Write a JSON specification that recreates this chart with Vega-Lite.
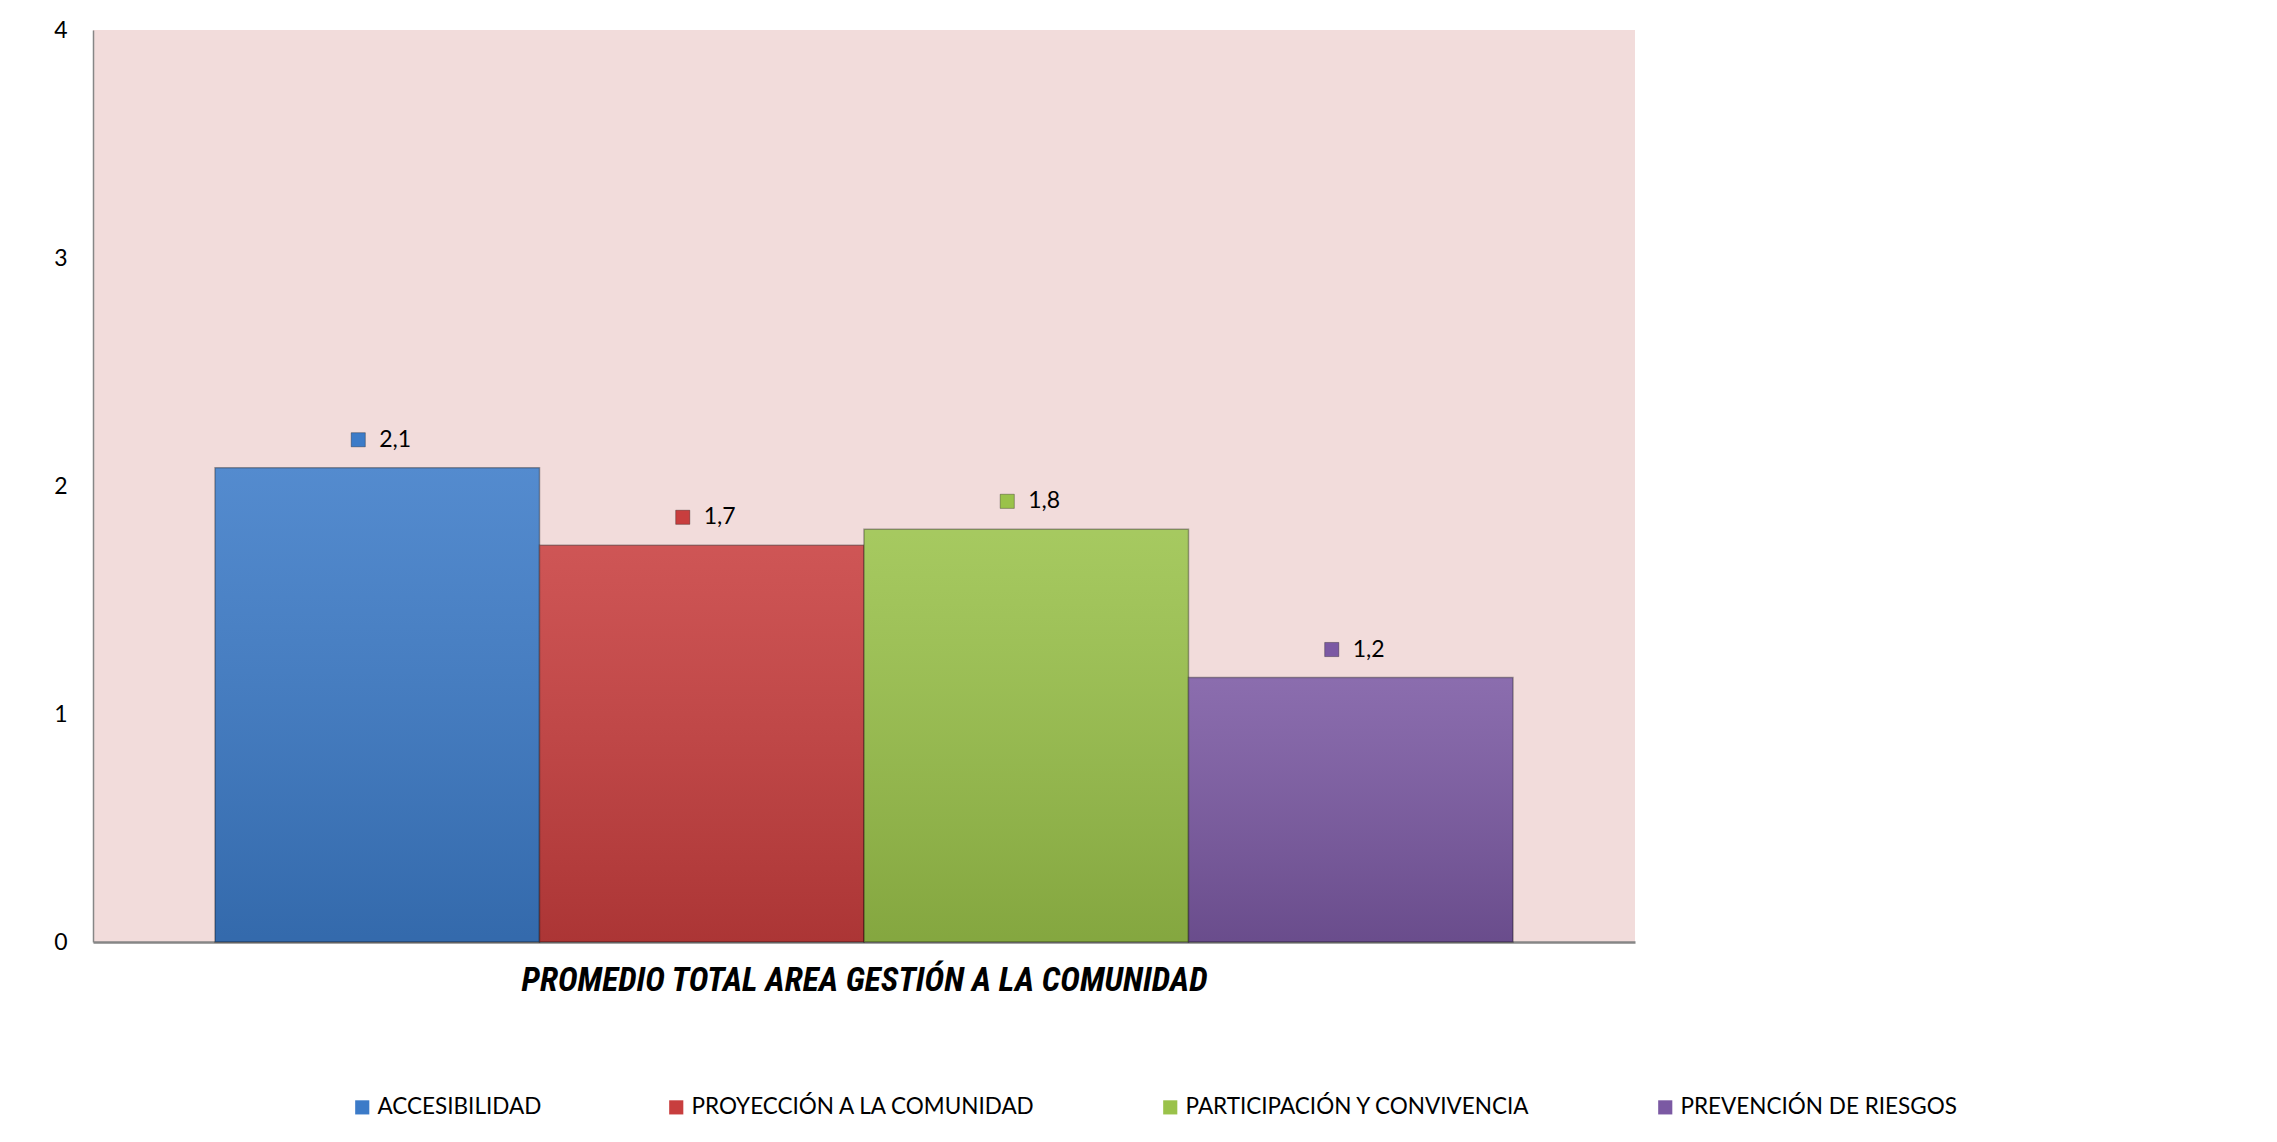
{
  "$schema": "https://vega.github.io/schema/vega-lite/v6.json",
  "width": 1542,
  "height": 912,
  "autosize": {"type": "none"},
  "padding": {"left": 93, "top": 30, "right": 642, "bottom": 200},
  "background": "white",
  "config": {
    "locale": {"number": {"decimal": ",", "thousands": ".", "grouping": [3], "currency": ["", " €"]}},
    "view": {"fill": "#F2DCDB", "stroke": null},
    "font": "Lato"
  },
  "data": {
    "values": [
      {"grupo": "PROMEDIO TOTAL AREA GESTIÓN A LA COMUNIDAD", "area": "ACCESIBILIDAD", "valor": 2.08},
      {"grupo": "PROMEDIO TOTAL AREA GESTIÓN A LA COMUNIDAD", "area": "PROYECCIÓN A LA COMUNIDAD", "valor": 1.74},
      {"grupo": "PROMEDIO TOTAL AREA GESTIÓN A LA COMUNIDAD", "area": "PARTICIPACIÓN Y CONVIVENCIA", "valor": 1.81},
      {"grupo": "PROMEDIO TOTAL AREA GESTIÓN A LA COMUNIDAD", "area": "PREVENCIÓN DE RIESGOS", "valor": 1.16}
    ]
  },
  "encoding": {
    "x": {
      "field": "area",
      "type": "nominal",
      "sort": null,
      "scale": {"paddingInner": 0, "paddingOuter": 0.376},
      "axis": {
        "labels": false,
        "ticks": false,
        "tickSize": 0,
        "title": "PROMEDIO TOTAL AREA GESTIÓN A LA COMUNIDAD",
        "titleFont": "Liberation Sans Narrow, Roboto Condensed, Arial Narrow, Liberation Sans",
        "titleFontSize": 33.5,
        "titleFontWeight": "bold",
        "titleFontStyle": "italic",
        "titleColor": "#000000",
        "titlePadding": 22,
        "domainColor": "#868686",
        "domainWidth": 2.5
      }
    },
    "y": {
      "field": "valor",
      "type": "quantitative",
      "scale": {"domain": [0, 4]},
      "axis": {
        "values": [0, 1, 2, 3, 4],
        "format": "d",
        "title": null,
        "grid": false,
        "ticks": false,
        "tickSize": 0,
        "labelFontSize": 23,
        "labelColor": "#000000",
        "labelPadding": 26,
        "domainColor": "#868686",
        "domainWidth": 1.5
      }
    }
  },
  "layer": [
    {
      "mark": {"type": "bar", "stroke": "#000000", "strokeOpacity": 0.35, "strokeWidth": 1.5},
      "encoding": {
        "color": {
          "field": "area",
          "type": "nominal",
          "scale": {
            "domain": ["ACCESIBILIDAD", "PROYECCIÓN A LA COMUNIDAD", "PARTICIPACIÓN Y CONVIVENCIA", "PREVENCIÓN DE RIESGOS"],
            "range": ["#3C7BC8", "#C83E3E", "#9AC24A", "#7B59A3"]
          },
          "legend": {
            "orient": "none",
            "legendX": 258,
            "legendY": 1066,
            "direction": "horizontal",
            "title": null,
            "symbolType": "square",
            "symbolSize": 200,
            "symbolStrokeWidth": 0,
            "symbolOpacity": 1,
            "labelFontSize": 22.5,
            "labelColor": "#000000",
            "labelOffset": 4,
            "columnPadding": 123,
            "labelLimit": 600
          }
        }
      }
    },
    {
      "mark": {
        "type": "bar",
        "fill": {
          "gradient": "linear",
          "x1": 0, "y1": 0, "x2": 0, "y2": 1,
          "stops": [
            {"offset": 0, "color": "rgba(255,255,255,0.12)"},
            {"offset": 1, "color": "rgba(0,0,0,0.14)"}
          ]
        },
        "stroke": null
      }
    },
    {
      "mark": {"type": "point", "shape": "square", "filled": true, "size": 200, "opacity": 1, "xOffset": -19, "yOffset": -28, "stroke": "#000000", "strokeOpacity": 0.3, "strokeWidth": 1},
      "encoding": {
        "color": {"field": "area", "type": "nominal", "legend": null}
      }
    },
    {
      "mark": {"type": "text", "align": "left", "baseline": "middle", "dx": 2, "dy": -28, "fontSize": 23, "color": "#000000"},
      "encoding": {
        "text": {"field": "valor", "type": "quantitative", "format": ".1f"}
      }
    }
  ]
}
